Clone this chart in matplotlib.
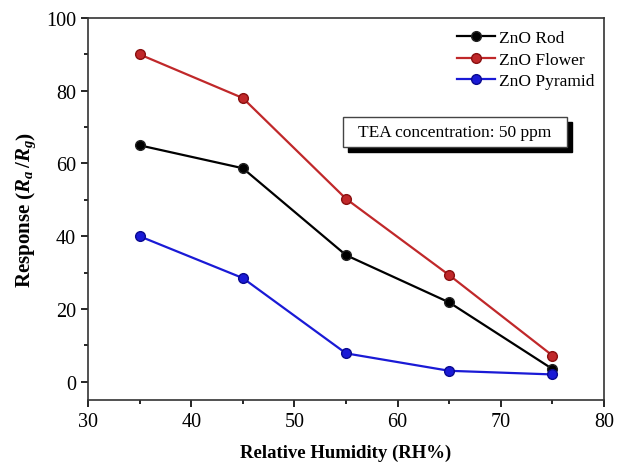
import matplotlib
matplotlib.use("Agg")
import matplotlib.pyplot as plt
from matplotlib.patches import Rectangle
from matplotlib.ticker import MultipleLocator

plt.rcParams['font.family'] = ['Liberation Serif', 'DejaVu Serif']
plt.rcParams['mathtext.fontset'] = 'custom'
plt.rcParams['mathtext.it'] = 'Liberation Serif:italic:bold'
plt.rcParams['mathtext.rm'] = 'Liberation Serif:bold'

humidity = [35, 45, 55, 65, 75]
rod = [65.0, 58.7, 34.8, 21.8, 3.5]
flower = [90.0, 78.0, 50.3, 29.3, 7.2]
pyramid = [40.0, 28.5, 7.8, 3.0, 2.0]
names = ['ZnO Rod', 'ZnO Flower', 'ZnO Pyramid']
colors = ['black', '#c0282a', '#1a1ad6']
edges = ['#222222', '#8a1010', '#0a0a90']

fig = plt.figure(figsize=(6.24, 4.64), dpi=100)
ax = fig.add_axes([0.141, 0.136, 0.827, 0.823])

for ys, n, c, e in zip([rod, flower, pyramid], names, colors, edges):
    ax.plot(humidity, ys, color=c, lw=1.6, marker='o', ms=7,
            mfc=c, mec=e, label=n)

ax.set_xlim(30, 80)
ax.set_ylim(-5, 100)
ax.xaxis.set_major_locator(MultipleLocator(10))
ax.xaxis.set_minor_locator(MultipleLocator(5))
ax.yaxis.set_major_locator(MultipleLocator(20))
ax.yaxis.set_minor_locator(MultipleLocator(10))
ax.tick_params(which='both', direction='out', top=False, right=False, labelsize=14.5)
ax.tick_params(which='major', length=5, width=1.2)
ax.tick_params(which='minor', length=3, width=1.2)
for s in ax.spines.values():
    s.set_linewidth(1.2)
    s.set_color('#333333')

ax.set_xlabel('Relative Humidity (RH%)', fontsize=13.5, fontweight='bold', labelpad=9)
ax.set_ylabel(r'Response $\left(R_a\,/R_g\right)$', fontsize=15, fontweight='bold', labelpad=6)

ax.legend(loc='upper right', frameon=False, fontsize=12.5, handlelength=2.2,
          handletextpad=0.2, labelspacing=0.3, borderaxespad=0.3,
          bbox_to_anchor=(1.005, 1.0))

# text box with shadow
ax.add_patch(Rectangle((0.504, 0.648), 0.434, 0.079, transform=ax.transAxes,
                       facecolor='black', edgecolor='black', zorder=5))
ax.add_patch(Rectangle((0.494, 0.662), 0.434, 0.079, transform=ax.transAxes,
                       facecolor='white', edgecolor='#444444', lw=1, zorder=6))
ax.text(0.711, 0.7015, 'TEA concentration: 50 ppm', transform=ax.transAxes,
        ha='center', va='center', fontsize=12.5, zorder=7)

fig.savefig('out.png', dpi=100)
